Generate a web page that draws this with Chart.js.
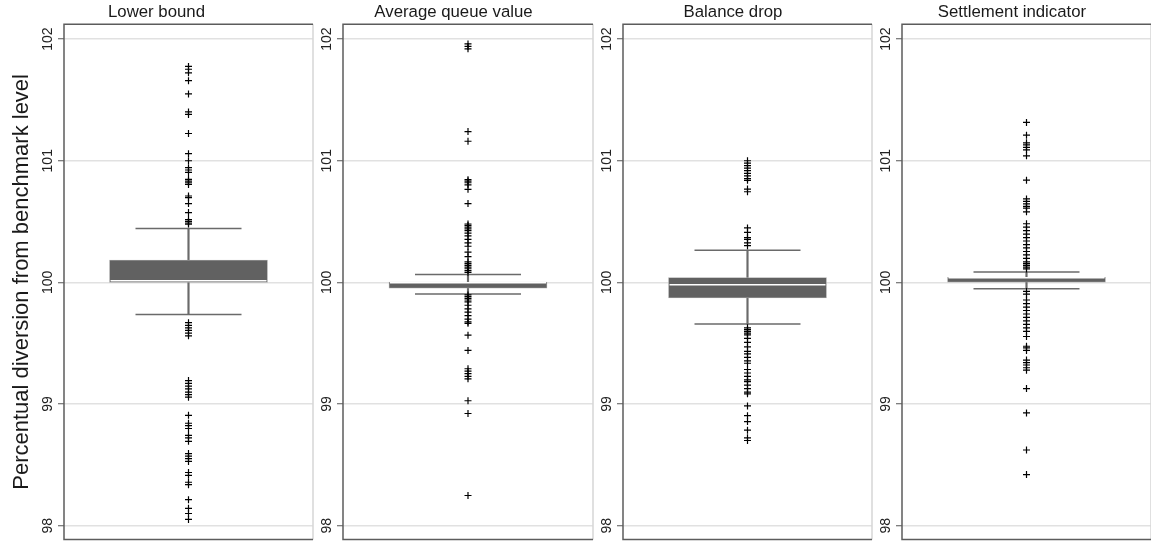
<!DOCTYPE html>
<html>
<head>
<meta charset="utf-8">
<script src="https://cdn.jsdelivr.net/npm/chart.js@4"></script>
<style>
  body { margin: 0; background: #fff; }
  #wrap { position: relative; width: 1151px; height: 546px; overflow: hidden; }
  canvas { position: absolute; top: 0; }
</style>
</head>
<body>
<div id="wrap">
  <canvas id="panel0" width="314" height="546" style="left:0px"></canvas>
  <canvas id="panel1" width="280" height="546" style="left:314px"></canvas>
  <canvas id="panel2" width="279" height="546" style="left:594px"></canvas>
  <canvas id="panel3" width="278" height="546" style="left:873px"></canvas>
</div>
<script>
// box plot summary per panel
const panelTitles = ['Lower bound', 'Average queue value', 'Balance drop', 'Settlement indicator'];
const lowerWhisker = [99.735, 99.904, 99.657, 99.948];
const q1Values = [100.0, 99.953, 99.872, 100.002];
const medianValues = [100.013, 99.996, 99.98, 100.039];
const q3Values = [100.183, 100.003, 100.04, 100.042];
const upperWhisker = [100.443, 100.064, 100.265, 100.085];

// outside values ("+" markers)
const lowerBoundOutliers = [
  101.775, 101.752, 101.723, 101.658, 101.549, 101.401, 101.381, 101.224, 101.058, 101.0,
  100.943, 100.924, 100.904, 100.847, 100.833, 100.819, 100.805, 100.71, 100.696, 100.648,
  100.574, 100.516, 100.502, 100.488, 100.479,
  99.669, 99.646, 99.626, 99.606, 99.583, 99.561,
  99.193, 99.17, 99.147, 99.124, 99.098, 99.078, 99.056,
  98.907, 98.842, 98.822, 98.799, 98.742, 98.722, 98.693, 98.593, 98.571, 98.551, 98.528,
  98.437, 98.414, 98.357, 98.337, 98.214, 98.143, 98.1, 98.051
];
const averageQueueOutliers = [
  101.96, 101.94, 101.92, 101.24, 101.16,
  100.844, 100.833, 100.819, 100.802, 100.765, 100.648,
  100.48, 100.468, 100.454, 100.44, 100.425, 100.405, 100.382, 100.354, 100.325, 100.297,
  100.248, 100.211, 100.168, 100.154, 100.14, 100.126, 100.112, 100.097, 100.083,
  99.897, 99.883, 99.869, 99.855, 99.84, 99.812, 99.783, 99.755, 99.726, 99.698, 99.675, 99.663,
  99.566, 99.441, 99.29, 99.27, 99.25, 99.227, 99.207, 99.027, 98.922, 98.248
];
const balanceDropOutliers = [
  101.0, 100.98, 100.96, 100.939, 100.919, 100.896, 100.876, 100.853, 100.839, 100.767, 100.745,
  100.448, 100.411, 100.368, 100.354, 100.325, 100.302,
  99.626, 99.612, 99.597, 99.583, 99.569, 99.54, 99.506, 99.469, 99.432, 99.412, 99.384, 99.355,
  99.335, 99.284, 99.255, 99.227, 99.198, 99.184, 99.155, 99.127, 99.098, 99.084,
  98.984, 98.904, 98.856, 98.785, 98.722, 98.7
];
const settlementOutliers = [
  101.315, 101.21, 101.147, 101.13, 101.11, 101.09, 101.04, 100.84,
  100.686, 100.666, 100.646, 100.625, 100.61, 100.58,
  100.482, 100.454, 100.425, 100.397, 100.368, 100.34, 100.311, 100.283, 100.254, 100.226,
  100.197, 100.168, 100.154, 100.14, 100.126, 100.111,
  99.926, 99.903, 99.855, 99.826, 99.797, 99.769, 99.74, 99.712, 99.683, 99.655, 99.626,
  99.598, 99.555, 99.475, 99.461, 99.441, 99.361, 99.341, 99.321, 99.298, 99.278,
  99.127, 98.927, 98.622, 98.42
];
const outlierLists = [lowerBoundOutliers, averageQueueOutliers, balanceDropOutliers, settlementOutliers];

const yTicks = [98, 99, 100, 101, 102];
const yMin = 97.8855;
const yMax = 102.1227;
const yTitle = 'Percentual diversion from benchmark level';

const fontFamily = '"Liberation Sans", Arial, Helvetica, sans-serif';
const boxColor = '#616161';
const lineColor = '#6a6a6a';

// frame round the plot region: dark left/top/bottom, light right
const framePlugin = {
    id: 'frame',
    afterDraw(chart) {
        const a = chart.chartArea;
        const ctx = chart.ctx;
        ctx.save();
        ctx.lineWidth = 1.5;
        ctx.strokeStyle = '#d6d6d6';
        ctx.beginPath();
        ctx.moveTo(a.right, a.top);
        ctx.lineTo(a.right, a.bottom);
        ctx.stroke();
        ctx.strokeStyle = '#5c5c5c';
        ctx.beginPath();
        ctx.moveTo(a.right, a.top);
        ctx.lineTo(a.left, a.top);
        ctx.lineTo(a.left, a.bottom);
        ctx.lineTo(a.right, a.bottom);
        ctx.stroke();
        ctx.restore();
    }
};

function makePanel(idx) {
    const label = panelTitles[idx];
    const first = idx === 0;
    const ctx = document.getElementById('panel' + idx).getContext('2d');
    return new Chart(ctx, {
        type: 'bar',
        data: {
            labels: [label],
            datasets: [
                {
                    type: 'line',
                    label: 'outside values',
                    data: outlierLists[idx].map(v => ({ x: label, y: v })),
                    showLine: false,
                    pointStyle: 'cross',
                    pointRadius: 3.5,
                    pointBorderColor: '#000',
                    pointBorderWidth: 1.2,
                    order: 0,
                },
                {
                    type: 'line',
                    label: 'median',
                    data: [{ x: label, y: medianValues[idx] }],
                    showLine: false,
                    pointStyle: 'line',
                    pointRadius: 78,
                    pointBorderColor: '#ffffff',
                    pointBorderWidth: 1.5,
                    order: 1,
                },
                {
                    label: 'box',
                    data: [[q1Values[idx], q3Values[idx]]],
                    backgroundColor: boxColor,
                    borderColor: '#a8a8a8',
                    borderWidth: 0.8,
                    borderSkipped: false,
                    barThickness: 158,
                    grouped: false,
                    order: 2,
                },
                {
                    type: 'line',
                    label: 'caps',
                    data: [{ x: label, y: upperWhisker[idx] }, { x: label, y: lowerWhisker[idx] }],
                    showLine: false,
                    pointStyle: 'line',
                    pointRadius: 53,
                    pointBorderColor: lineColor,
                    pointBorderWidth: 1.5,
                    order: 3,
                },
                {
                    label: 'whisker',
                    data: [[lowerWhisker[idx], upperWhisker[idx]]],
                    backgroundColor: lineColor,
                    borderWidth: 0,
                    barThickness: 1.5,
                    grouped: false,
                    order: 4,
                },
            ],
        },
        options: {
            responsive: false,
            animation: false,
            events: [],
            layout: {
                autoPadding: false,
                padding: { left: 0, top: 0, right: idx === 3 ? 0 : 1, bottom: 4 },
            },
            plugins: {
                legend: { display: false },
                tooltip: { enabled: false },
                title: {
                    display: true,
                    text: label,
                    color: '#1a1a1a',
                    font: { family: fontFamily, size: 16.8, weight: 'normal' },
                    padding: { top: 2.5, bottom: 1.5 },
                },
            },
            scales: {
                x: { display: false, offset: true },
                y: {
                    min: yMin,
                    max: yMax,
                    afterBuildTicks: s => { s.ticks = yTicks.map(v => ({ value: v })); },
                    afterFit: s => { s.width = first ? 64 : 29; },
                    ticks: {
                        minRotation: 90,
                        maxRotation: 90,
                        crossAlign: 'center',
                        padding: -2,
                        color: '#222',
                        font: { family: fontFamily, size: 14 },
                    },
                    grid: {
                        color: '#e1e1e1',
                        lineWidth: 1.5,
                        tickColor: '#555',
                        tickWidth: 1,
                        tickLength: 6,
                    },
                    border: { display: false },
                    title: {
                        display: first,
                        text: yTitle,
                        color: '#1a1a1a',
                        font: { family: fontFamily, size: 22 },
                        padding: { top: 9, bottom: 0 },
                    },
                },
            },
        },
        plugins: [framePlugin],
    });
}

const charts = [0, 1, 2, 3].map(makePanel);
</script>
</body>
</html>
